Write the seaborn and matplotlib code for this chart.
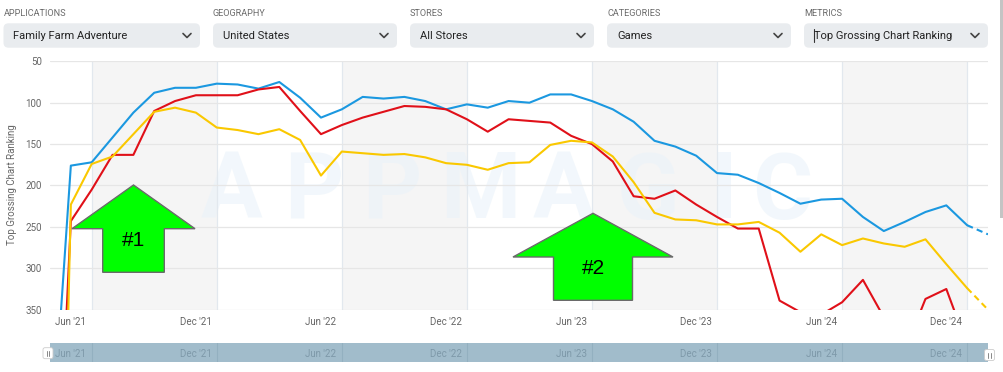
import matplotlib.pyplot as plt
import matplotlib.patches as mpatches
from matplotlib.lines import Line2D
from matplotlib.transforms import IdentityTransform
import numpy as np
import pandas as pd
import seaborn as sns

W, H = 1004, 372

# monthly points, May '21 .. Feb '25 (index 0..45)
months = pd.date_range("2021-05-01", periods=46, freq="MS")
tick_labels = ["Jun '21", "Dec '21", "Jun '22", "Dec '22", "Jun '23", "Dec '23", "Jun '24", "Dec '24"]

# top grossing rank (lower is better); values past 350 run off the chart
blue_rank = [547, 176, 172, 142, 112, 88, 82, 82, 77, 78, 83, 75,
             94, 118, 108, 93, 95, 93, 98, 108, 102, 106, 98, 100,
             90, 90, 98, 108, 123, 146, 153, 164, 185, 187, 197,
             209, 222, 217, 216, 238, 255, 244, 232, 224, 248, 259]
red_rank = [780, 243, 205, 163, 163, 110, 98, 91, 91, 91, 84, 81,
            110, 138, 127, 118, 111, 104, 105, 108, 120, 135, 120, 122,
            124, 140, 150, 171, 213, 216, 206, 223, 238, 252, 252,
            339, 353, 356, 341, 314, 359, 400, 337, 325, 393, np.nan]
yellow_rank = [1280, 223, 174, 165, 138, 111, 106, 112, 130, 133, 138, 132,
               145, 188, 159, 161, 163, 162, 166, 173, 175, 181, 173, 172,
               151, 146, 148, 165, 196, 233, 241, 242, 247, 247, 244,
               257, 280, 259, 272, 264, 270, 274, 265, 295, 324, 350]

filters = ["APPLICATIONS", "GEOGRAPHY", "STORES", "CATEGORIES", "METRICS"]
filter_values = ["Family Farm Adventure", "United States", "All Stores", "Games", "Top Grossing Chart Ranking"]

colors = {"blue": "#1b98e0", "red": "#e01019", "yellow": "#fac800"}

df = pd.DataFrame({"month": months, "idx": np.arange(len(months)),
                   "blue": blue_rank, "red": red_rank, "yellow": yellow_rank})

sns.set_style("white")
plt.rcParams["font.family"] = ["Roboto", "DejaVu Sans"]

fig = plt.figure(figsize=(W / 100, H / 100), dpi=100)
fig.patch.set_facecolor("white")
pix = IdentityTransform()


def py(y):
    return H - y


#main chart area
ax = fig.add_axes([50 / W, 1 - 309.7 / H, 938 / W, 248.4 / H])
for start in range(2, 44, 12):
    ax.axvspan(start, start + 6, color="#f5f5f5", zorder=0, lw=0)

for name in ["blue", "red", "yellow"]:
    solid = df[df["idx"] <= 44]
    sns.lineplot(data=solid, x="idx", y=name, ax=ax, color=colors[name], lw=1.5, zorder=3)
    dash = df[df["idx"] >= 44]
    sns.lineplot(data=dash, x="idx", y=name, ax=ax, color=colors[name], lw=1.5,
                 linestyle=(0, (3, 2)), zorder=3)

ax.set_xlim(0, 45)
ax.set_ylim(350, 50)
ax.set_yticks(range(50, 351, 50))
ax.set_xticks(np.arange(1, 45, 6))
ax.set_xticklabels(tick_labels)
ax.set_xticks(np.arange(2, 45, 6), minor=True)
ax.yaxis.grid(True, color="#e6e6e6", lw=0.9, zorder=1)
ax.xaxis.grid(True, which="minor", color="#e2e8ee", lw=0.9, zorder=1)
ax.tick_params(axis="x", which="major", length=0, pad=5, labelsize=7, labelcolor="#666666")
ax.tick_params(axis="x", which="minor", length=5, width=0.9, color="#e2e8ee")
ax.tick_params(axis="y", length=0, pad=6, labelsize=7, labelcolor="#666666")
ax.set_xlabel("")
ax.set_ylabel("")
for s in ax.spines.values():
    s.set_visible(False)

fig.text(12 / W, 1 - 185 / H, "Top Grossing Chart Ranking", rotation=90,
         ha="center", va="center", fontsize=7, color="#666666")

# faint watermark
for letter, xc in zip("APPMAGIC", [232, 314, 392, 480, 564, 648, 724, 782]):
    ax.text(xc, py(193), letter, transform=pix, ha="center", va="center",
            fontsize=66, fontweight="bold", color="#eaf3fa", alpha=0.6, zorder=0.5)

# green arrows drawn over the chart
def up_arrow(cx, tip_y, base_y, bottom_y, half_head, half_shaft, label):
    pts = [(cx, tip_y), (cx + half_head, base_y), (cx + half_shaft, base_y),
           (cx + half_shaft, bottom_y), (cx - half_shaft, bottom_y),
           (cx - half_shaft, base_y), (cx - half_head, base_y)]
    poly = mpatches.Polygon([(x, py(y)) for x, y in pts], closed=True, transform=pix,
                            facecolor="#00ff00", edgecolor="#6a6a6a", lw=1.0)
    fig.add_artist(poly)
    fig.text(cx / W, 1 - (base_y + 12) / H, label, ha="center", va="center",
             fontsize=15, color="black", family=["Liberation Sans", "DejaVu Sans"])


up_arrow(133.5, 185, 228.7, 272.3, 61.5, 30.8, "#1")
up_arrow(593, 213.3, 257, 300.3, 80, 39.5, "#2")

# filter bar on top
box_x = [(3.5, 200), (213, 397), (410, 594), (607, 791), (804, 988)]
for (x0, x1), lab, val in zip(box_x, filters, filter_values):
    fig.text(x0 / W, 1 - 14 / H, lab, ha="left", va="center", fontsize=6.6, color="#6b6b6b")
    box = mpatches.FancyBboxPatch((x0, py(47.7)), x1 - x0, 24.4,
                                  boxstyle="round,pad=0,rounding_size=5", transform=pix,
                                  facecolor="#e9ecef", edgecolor="none")
    fig.add_artist(box)
    fig.text((x0 + 10) / W, 1 - 35.7 / H, val, ha="left", va="center", fontsize=8, color="#222222")
    cx = x1 - 13
    fig.add_artist(Line2D([cx - 4, cx, cx + 4], [py(33.5), py(37.5), py(33.5)],
                          transform=pix, color="#444444", lw=1.2))
# text cursor in the metrics box
fig.add_artist(Line2D([814, 814], [py(29), py(42)], transform=pix, color="#333333", lw=0.8))

# navigator strip at the bottom
nav = fig.add_axes([50 / W, 1 - 361.5 / H, 938 / W, 19 / H])
nav.set_facecolor("#a1bccb")
nav.set_xlim(0, 45)
nav.set_ylim(0, 1)
for g in np.arange(2, 45, 6):
    nav.axvline(g, color="#93b0c0", lw=0.8)
for pos, lab in zip(np.arange(1, 45, 6), tick_labels):
    nav.text(pos, 0.42, lab, ha="center", va="center", fontsize=7, color="#7e99a9")
nav.set_xticks([])
nav.set_yticks([])
for s in nav.spines.values():
    s.set_visible(False)

for hx, hy in [(43, 347.7), (984.5, 349.5)]:
    handle = mpatches.FancyBboxPatch((hx, py(hy + 11)), 10, 11,
                                     boxstyle="round,pad=0,rounding_size=2", transform=pix,
                                     facecolor="white", edgecolor="#cccccc", lw=0.6)
    fig.add_artist(handle)
    for dx in (3.8, 6.2):
        fig.add_artist(Line2D([hx + dx, hx + dx], [py(hy + 3), py(hy + 8)],
                              transform=pix, color="#888888", lw=0.7))

# page scrollbar at the right edge
fig.add_artist(mpatches.Rectangle((1000, py(218)), 4, 218, transform=pix,
                                  facecolor="#c4c4c4", edgecolor="none"))

fig.savefig("out.png", dpi=100)
